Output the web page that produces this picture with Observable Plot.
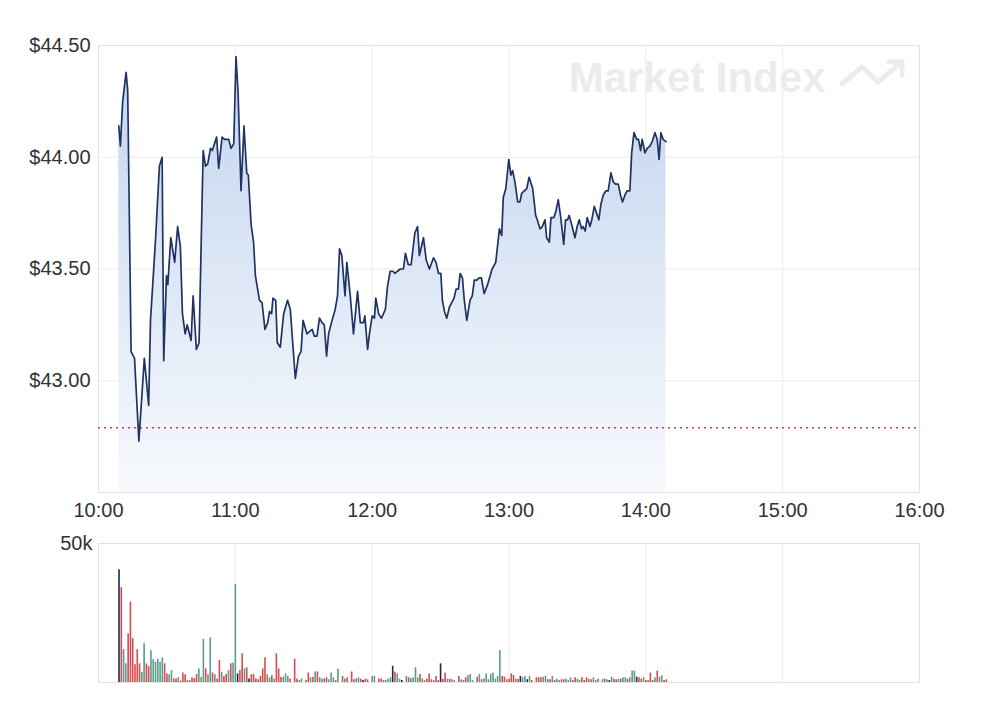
<!DOCTYPE html>
<html><head><meta charset="utf-8">
<script src="https://cdn.jsdelivr.net/npm/d3@7"></script>
<script src="https://cdn.jsdelivr.net/npm/@observablehq/plot@0.6"></script>
<style>
html,body{margin:0;padding:0;background:#fff;}
#chart svg{display:block;}
</style></head>
<body><div id="chart"></div>
<script>
// ---- data (minutes after 10:00) ----
const priceMinutes = [8.9,9.6,10.6,12.1,12.8,14.3,15.8,17.7,20.1,22.0,
22.8,25.0,26.7,27.9,28.6,29.8,30.4,31.7,33.4,34.7,
35.9,36.8,38.0,38.9,40.6,41.5,42.9,44.1,45.9,46.9,
47.9,49.1,49.9,51.8,52.7,54.2,55.3,57.1,58.1,59.3,
60.3,61.2,62.5,63.8,65.0,65.7,66.9,68.0,68.8,70.6,
71.7,73.0,74.2,75.0,75.9,76.5,77.7,78.4,79.7,81.2,
82.9,84.1,86.3,87.7,88.8,89.7,91.4,92.5,93.7,94.6,
95.8,96.9,98.0,99.0,100.0,100.9,101.9,103.8,104.8,105.7,
106.7,108.1,108.9,110.4,111.8,113.6,114.8,116.2,116.8,118.0,
118.8,120.0,121.0,121.6,122.8,124.1,125.8,126.7,127.9,129.1,
130.0,131.1,132.3,133.7,134.6,135.8,137.1,138.7,139.9,140.7,
142.5,143.7,145.1,146.9,148.0,149.1,150.1,150.8,151.7,152.7,
153.9,154.9,155.9,156.8,157.8,158.6,159.6,160.4,161.5,162.9,
163.9,164.8,165.9,166.9,167.9,169.1,170.6,172.6,174.2,175.8,
176.8,177.5,178.6,179.9,180.8,181.6,182.6,183.8,184.8,185.6,
186.7,187.8,188.8,190.4,191.7,192.4,193.6,194.6,195.8,196.5,
197.7,198.4,199.7,200.6,201.6,202.7,204.0,204.8,205.7,206.4,
207.7,208.9,209.9,210.8,211.8,212.5,213.4,214.3,215.5,216.3,
217.4,218.4,219.4,220.3,221.3,222.5,223.5,224.7,225.7,226.7,
227.9,228.9,229.8,230.8,231.8,233.0,233.8,234.8,236.0,236.8,
237.7,238.4,239.6,240.6,241.8,242.8,244.0,245.0,245.8,246.6,
247.6,248.8];
const prices = [44.14,44.05,44.25,44.38,44.30,43.13,43.10,42.73,43.10,42.89,
43.27,43.63,43.96,44.00,43.09,43.47,43.43,43.64,43.53,43.69,
43.60,43.30,43.21,43.25,43.18,43.38,43.14,43.17,44.03,43.96,
43.97,44.04,44.03,44.09,43.95,44.09,44.08,44.08,44.04,44.06,
44.45,44.29,43.85,44.14,43.93,43.92,43.70,43.62,43.47,43.36,
43.35,43.23,43.26,43.31,43.30,43.37,43.36,43.17,43.15,43.30,
43.36,43.32,43.01,43.11,43.13,43.27,43.21,43.22,43.23,43.20,
43.20,43.28,43.26,43.25,43.11,43.21,43.25,43.32,43.38,43.59,
43.56,43.38,43.53,43.38,43.21,43.40,43.26,43.26,43.29,43.14,
43.21,43.29,43.28,43.37,43.30,43.28,43.32,43.42,43.49,43.49,
43.48,43.49,43.50,43.50,43.57,43.52,43.52,43.66,43.69,43.56,
43.64,43.54,43.50,43.55,43.53,43.48,43.48,43.36,43.31,43.28,
43.33,43.35,43.37,43.41,43.41,43.48,43.46,43.36,43.27,43.36,
43.38,43.45,43.45,43.46,43.46,43.39,43.43,43.50,43.53,43.68,
43.65,43.82,43.86,43.99,43.92,43.94,43.89,43.80,43.80,43.84,
43.85,43.86,43.91,43.86,43.74,43.72,43.68,43.69,43.72,43.64,
43.62,43.73,43.73,43.76,43.81,43.73,43.61,43.72,43.72,43.74,
43.69,43.64,43.69,43.72,43.68,43.69,43.67,43.73,43.69,43.72,
43.78,43.75,43.72,43.79,43.83,43.85,43.85,43.93,43.89,43.88,
43.88,43.83,43.80,43.83,43.85,43.85,44.02,44.11,44.08,44.08,
44.03,44.08,44.02,44.04,44.05,44.07,44.11,44.08,43.99,44.11,
44.08,44.07];

const volMinutes = [9,10,11,12,13,14,15,16,17,18,19,20,21,22,23,24,25,26,27,28,29,30,31,32,33,34,35,36,37,38,39,40,41,42,43,44,45,46,47,48,49,50,51,52,53,54,55,56,57,58,59,60,61,62,63,64,65,66,67,68,69,70,71,72,73,74,75,76,77,78,79,80,81,82,83,84,86,87,88,
89,91,92,93,94,95,96,97,98,99,100,101,102,103,104,105,107,108,109,111,112,113,114,115,116,117,118,120,121,123,124,125,126,127,128,129,130,131,132,133,135,136,137,138,139,140,141,142,143,144,145,146,147,148,149,150,151,152,153,154,155,156,158,159,160,161,162,163,164,166,167,168,169,
170,171,172,173,174,175,176,177,178,179,180,181,182,183,184,185,186,187,188,189,190,192,193,194,195,196,197,198,199,200,201,202,203,204,205,206,207,208,209,210,211,212,213,214,215,216,217,218,219,221,222,223,224,225,226,227,228,229,230,231,232,233,234,235,236,237,238,239,240,241,242,243,244,245,246,247,248,249];
const volumesK = [40.6,34.1,11.9,6.7,17.5,28.9,15.8,6.4,11.8,6.7,3.7,13.9,6.7,5.8,11.4,8.2,7.3,8.3,7.3,8.8,6.7,3.1,2.8,4.3,1.3,1.3,1.8,0.5,3.4,2.8,0.7,0.7,1.7,1.4,2.9,4.9,1.9,15.5,4.9,2.8,16.0,3.4,2.8,1.3,7.9,3.7,2.2,2.9,4.3,6.7,7.0,35.3,3.1,4.3,10.3,4.9,5.3,1.3,2.8,2.8,1.3,1.0,2.2,4.9,8.9,2.8,1.6,2.4,1.3,10.3,4.9,1.9,1.9,3.1,2.2,1.3,8.4,1.3,0.7,
1.3,0.7,3.4,1.7,1.9,3.8,3.8,1.7,1.3,1.3,1.7,1.0,3.4,1.7,0.7,4.8,2.2,1.3,1.7,3.8,1.0,1.3,1.7,1.2,0.7,1.2,1.0,2.2,2.2,1.3,1.3,0.7,0.7,1.2,1.7,5.8,3.7,3.1,1.2,0.7,2.2,1.7,1.4,1.7,5.3,1.7,2.9,1.3,0.7,1.3,3.1,1.0,0.7,2.2,0.7,6.7,1.2,3.4,1.2,1.2,1.0,0.7,2.2,1.0,0.7,1.7,2.5,2.9,0.7,1.9,2.9,1.0,1.3,
3.1,1.0,2.9,3.4,1.2,2.2,11.5,2.2,1.9,1.0,1.2,3.1,2.5,1.2,1.2,2.2,1.7,2.2,1.0,2.2,0.7,1.7,1.7,1.7,1.9,2.2,1.0,1.0,2.2,0.7,1.2,0.7,1.0,1.0,1.2,0.7,1.7,0.7,1.7,1.2,0.7,1.7,0.7,1.7,1.2,1.0,1.7,0.7,1.2,1.2,1.2,1.0,0.7,1.9,1.2,1.0,1.2,1.2,1.7,1.7,1.2,1.7,4.1,4.1,1.9,1.7,1.2,1.7,0.7,0.7,3.4,0.7,1.7,4.1,1.9,2.4,0.7,1.0];
// u = up (green), d = down (red), n = unchanged (navy)
const volDirs = ("n d u u d d d d d d u u d d u u u u u u d d u u d d u d d d d u d d d u u u d u u d u d d u d d u d u u n d d u d n d d d d d d d u u d u d d d u u u d d d u " +
"u d d u d u d u u d d u u u d u d u d d d u u d n d d u u d d d u u u n d u u n u d u u u u d u u d d d u d d n d d u d u u d u d d u u u d u d u " +
"u u u u u u u d d u d d d u d n u u n u d d d d u u d d u d u u d d u u u d d u u d d d u d u u d u d u n u d d u d u u d u u u n d d u d d d d u d u u d d").split(" ");

const hourLabels = ["10:00","11:00","12:00","13:00","14:00","15:00","16:00"];
const priceTicks = [43.0, 43.5, 44.0, 44.5];
const priceDomain = [42.5, 44.5];
const prevClose = 42.79;
const volTicks = [50000];

// ---- helpers ----
const base = Date.UTC(2024, 0, 2, 10, 0);
const toTime = m => new Date(base + m * 60000);
const parseHM = s => { const [h, mm] = s.split(":").map(Number); return toTime((h - 10) * 60 + mm); };
const hourDates = hourLabels.map(parseHM);
const xDomain = [hourDates[0], hourDates[hourDates.length - 1]];

const priceData = priceMinutes.map((m, i) => ({time: toTime(m), price: prices[i]}));
const volData = volMinutes.map((m, i) => ({time: toTime(m), vol: volumesK[i] * 1000, dir: volDirs[i]}));

const FONT = "'Liberation Sans', Arial, sans-serif";
const GRID = "#ececec";
const FRAME = "#e2e2e2";

const main = Plot.plot({
  width: 1000, height: 530,
  marginLeft: 98, marginRight: 81, marginTop: 45, marginBottom: 38,
  style: {fontFamily: FONT, fontSize: "20px", color: "#333", background: "transparent", overflow: "visible"},
  x: {type: "utc", domain: xDomain, ticks: hourDates, tickFormat: d3.utcFormat("%H:%M"), tickSize: 0, tickPadding: 10, label: null},
  y: {domain: priceDomain, ticks: priceTicks, tickFormat: d => "$" + d.toFixed(2), tickSize: 0, tickPadding: 8, label: null},
  marks: [
    Plot.ruleX(hourDates, {stroke: GRID}),
    Plot.ruleY(priceTicks, {stroke: GRID}),
    Plot.frame({stroke: FRAME}),
    Plot.text(["Market Index"], {frameAnchor: "top-right", textAnchor: "end", lineAnchor: "middle", dx: -94, dy: 33, fontSize: 42, fontWeight: "bold", fill: "#ececec"}),
    Plot.areaY(priceData, {x: "time", y1: priceDomain[0], y2: "price", fill: "url(#areaGrad)"}),
    Plot.ruleY([prevClose], {stroke: "#d63a3a", strokeWidth: 1.5, strokeDasharray: "2,4"}),
    Plot.lineY(priceData, {x: "time", y: "price", stroke: "#1f3462", strokeWidth: 1.7})
  ]
});
main.insertAdjacentHTML("afterbegin",
  '<defs><linearGradient id="areaGrad" x1="0" y1="0" x2="0" y2="1">' +
  '<stop offset="0" stop-color="#c2d4ee"/><stop offset="1" stop-color="#f8fafd"/></linearGradient></defs>');
main.insertAdjacentHTML("beforeend",
  '<path d="M842,84 L862,67 L878,82 L902,62 M889,62 L902,62 L902,75" fill="none" stroke="#ececec" stroke-width="5" stroke-linejoin="round" stroke-linecap="round"/>');

const vol = Plot.plot({
  width: 1000, height: 171,
  marginLeft: 98, marginRight: 81, marginTop: 13, marginBottom: 19,
  style: {fontFamily: FONT, fontSize: "20px", color: "#333", background: "transparent", overflow: "visible"},
  x: {type: "utc", domain: xDomain, axis: null},
  y: {domain: [0, 50000], ticks: volTicks, tickFormat: d => (d / 1000) + "k", tickSize: 0, tickPadding: 6, label: null},
  color: {domain: ["u", "d", "n"], range: ["#5a9c89", "#d74a51", "#1c2a4e"]},
  marks: [
    Plot.ruleX(hourDates.slice(1, -1), {stroke: GRID}),
    Plot.frame({stroke: FRAME}),
    Plot.ruleX(volData, {x: "time", y1: 0, y2: "vol", stroke: "dir", strokeWidth: 1.6})
  ]
});

const chart = document.getElementById("chart");
chart.appendChild(main);
chart.appendChild(vol);
</script>
</body></html>
